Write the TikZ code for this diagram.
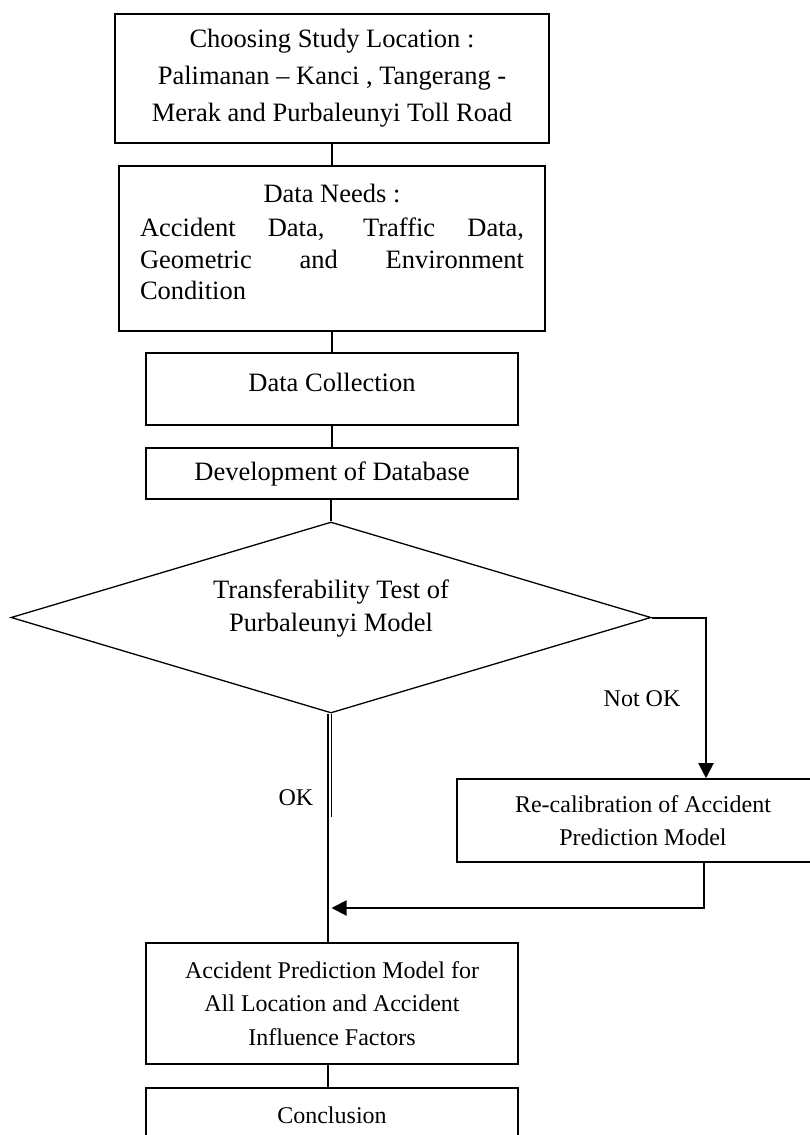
\documentclass[tikz,border=0pt]{standalone}
\usepackage{fontspec}
\setmainfont{Liberation Serif}
\usetikzlibrary{shapes.geometric,arrows.meta}
\begin{document}
\begin{tikzpicture}[x=1pt,y=-1pt,
  box/.style={draw, line width=1.6pt, rectangle, inner sep=0pt},
  big/.style={font=\fontsize{26.5}{37}\selectfont, align=center},
  small/.style={font=\fontsize{24}{33.5}\selectfont, align=center},
  conn/.style={line width=1.2pt},
  arr/.style={line width=2pt, -{Triangle[length=15pt,width=15pt]}},
]
\fill[white] (0,0) rectangle (810,1135);
\useasboundingbox (0,0) rectangle (810,1135);
\clip (0,0) rectangle (810,1135);

% boxes
\node[box, big, minimum width=434pt, minimum height=129pt] (b1) at (332,78.5)
  {Choosing Study Location :\\ Palimanan -- Kanci , Tangerang -\\ Merak and Purbaleunyi Toll Road};

\node[box, minimum width=426pt, minimum height=165pt] (b2) at (332,248.5) {};
\node[font=\fontsize{26.5}{31.5}\selectfont, align=left, inner sep=0pt] (t2) at (332,242)
  {\makebox[384pt]{Data Needs :}\\[3pt]
   \makebox[384pt][s]{Accident Data, Traffic Data,}\\
   \makebox[384pt][s]{Geometric and Environment}\\
   Condition};

\node[box, minimum width=372pt, minimum height=72pt] (b3) at (332,389) {};
\node[big] (t3) at (332,382) {Data Collection};

\node[box, big, minimum width=372pt, minimum height=51pt] (b4) at (332,473.5) {Development of Database};

\node[draw, diamond, line width=1.3pt, minimum width=640pt, minimum height=191pt, aspect=3.35, inner sep=0pt] (dia) at (331,617.5) {};
\node[font=\fontsize{26.5}{33}\selectfont, align=center] (t4) at (331,608.5)
  {Transferability Test of\\ Purbaleunyi Model};

\node[box, small, minimum width=372pt, minimum height=83pt] (b5) at (643,820.5)
  {Re-calibration of Accident\\ Prediction Model};

\node[box, small, minimum width=372pt, minimum height=121pt] (b6) at (332,1003.5)
  {Accident Prediction Model for\\ All Location and Accident\\ Influence Factors};

\node[box, small, minimum width=372pt, minimum height=54pt] (b7) at (332,1115) {Conclusion};

% labels
\node[small] (lnot) at (642,699) {Not OK};
\node[small] (lok) at (296,798) {OK};

% connectors
\draw[conn] (b1.south) -- (b2.north);
\draw[conn] (b2.south) -- (b3.north);
\draw[conn] (b3.south) -- (b4.north);
\draw[conn] ([xshift=-1pt]b4.south) -- ([xshift=-1pt]b4.south |- dia.north);
\draw[conn] (b6.south -| 328,0) -- (b7.north -| 328,0);

\coordinate (c1) at (706,617.5);
\draw[arr] (dia.east) -- (c1) -- (c1 |- b5.north);

\coordinate (c2) at (704,908);
\coordinate (m) at (331.5,908);
\draw[arr] (c2 |- b5.south) -- (c2) -- (m);

\coordinate (ok2) at (331.5,817);
\draw[conn] ([xshift=-3pt]dia.south) -- ([xshift=-4pt]b6.north);
\draw[conn] ([xshift=0.5pt]dia.south) -- (ok2);
\end{tikzpicture}
\end{document}
